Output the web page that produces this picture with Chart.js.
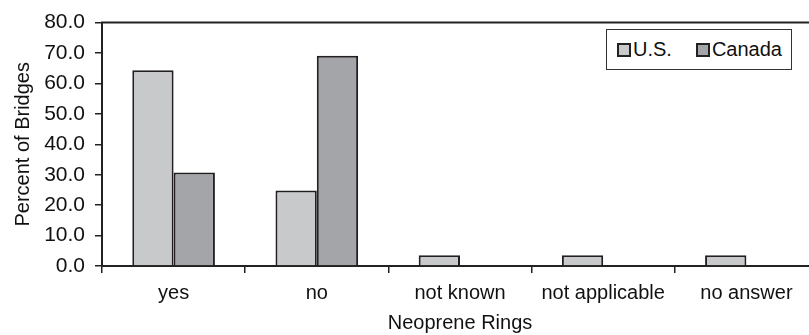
<!DOCTYPE html>
<html>
<head>
<meta charset="utf-8">
<script src="https://cdn.jsdelivr.net/npm/chart.js@4.4.1/dist/chart.umd.min.js"></script>
<style>
  html, body { margin: 0; padding: 0; background: #fff; overflow: hidden; }
  #wrap { position: relative; width: 830px; height: 335px; }
  #legend {
    position: absolute; left: 606px; top: 29px; width: 184px; height: 39px;
    border: 1px solid #333; background: #fff;
    font: 20px "Liberation Sans", Arial, sans-serif; color: #111;
    display: flex; align-items: center; box-sizing: content-box;
  }
  #legend .item { display: flex; align-items: center; margin-left: 10px; }
  #legend .item + .item { margin-left: 24px; }
  #legend .sw { width: 10px; height: 10px; border: 2px solid #222; margin-right: 2px; }
</style>
</head>
<body>
<div id="wrap">
  <canvas id="chart" width="830" height="335"></canvas>
  <div id="legend"></div>
</div>
<script>
const categories = ['yes', 'no', 'not known', 'not applicable', 'no answer'];
const usValues = [64.3, 24.8, 3.5, 3.5, 3.5];
const canadaValues = [30.7, 69.1, 0, 0, 0];
const seriesNames = ['U.S.', 'Canada'];
const seriesColors = ['#c8c9cb', '#a3a5a8'];

const FONT = '"Liberation Sans", Arial, sans-serif';
const INK = '#111';

// top edge of the plot box
const topBorder = {
    id: 'topBorder',
    afterDraw(chart) {
        const { ctx, chartArea } = chart;
        ctx.save();
        ctx.strokeStyle = '#222';
        ctx.lineWidth = 2;
        ctx.beginPath();
        ctx.moveTo(chartArea.left - 1, chartArea.top);
        ctx.lineTo(chartArea.right, chartArea.top);
        ctx.stroke();
        ctx.restore();
    }
};

const ctx = document.getElementById('chart').getContext('2d');
new Chart(ctx, {
    type: 'bar',
    data: {
        labels: categories,
        datasets: [
            { label: seriesNames[0], data: usValues, backgroundColor: seriesColors[0] },
            { label: seriesNames[1], data: canadaValues, backgroundColor: seriesColors[1] }
        ]
    },
    options: {
        responsive: false,
        animation: false,
        datasets: {
            bar: {
                borderColor: '#231f20',
                borderWidth: 2,
                categoryPercentage: 0.577,
                barPercentage: 1.0
            }
        },
        layout: { padding: { top: 17, right: 12, left: 0, bottom: 0 } },
        plugins: {
            legend: { display: false },
            tooltip: { enabled: false }
        },
        scales: {
            x: {
                grid: { display: true, drawOnChartArea: false, tickLength: 7, color: '#222', lineWidth: 1.5 },
                border: { display: true, color: '#222', width: 2 },
                ticks: { color: INK, font: { family: FONT, size: 20 }, padding: 8, maxRotation: 0, autoSkip: false },
                title: { display: true, text: 'Neoprene Rings', color: INK, font: { family: FONT, size: 20 }, padding: { top: 0, bottom: 0 } },
                afterFit(scale) { scale.height = 69; }
            },
            y: {
                min: 0,
                max: 80,
                grid: { display: true, drawOnChartArea: false, tickLength: 7, color: '#222', lineWidth: 1.5 },
                border: { display: true, color: '#222', width: 2 },
                ticks: {
                    stepSize: 10,
                    color: INK,
                    font: { family: FONT, size: 21 },
                    padding: 10,
                    callback: value => value.toFixed(1)
                },
                title: { display: true, text: 'Percent of Bridges', color: INK, font: { family: FONT, size: 20 }, padding: { top: 11, bottom: 0 } },
                afterFit(scale) { scale.width = 102; }
            }
        }
    },
    plugins: [topBorder]
});

const legend = document.getElementById('legend');
seriesNames.forEach((name, i) => {
    const item = document.createElement('div');
    item.className = 'item';
    item.innerHTML = `<span class="sw" style="background:${seriesColors[i]}"></span><span>${name}</span>`;
    legend.appendChild(item);
});
</script>
</body>
</html>
